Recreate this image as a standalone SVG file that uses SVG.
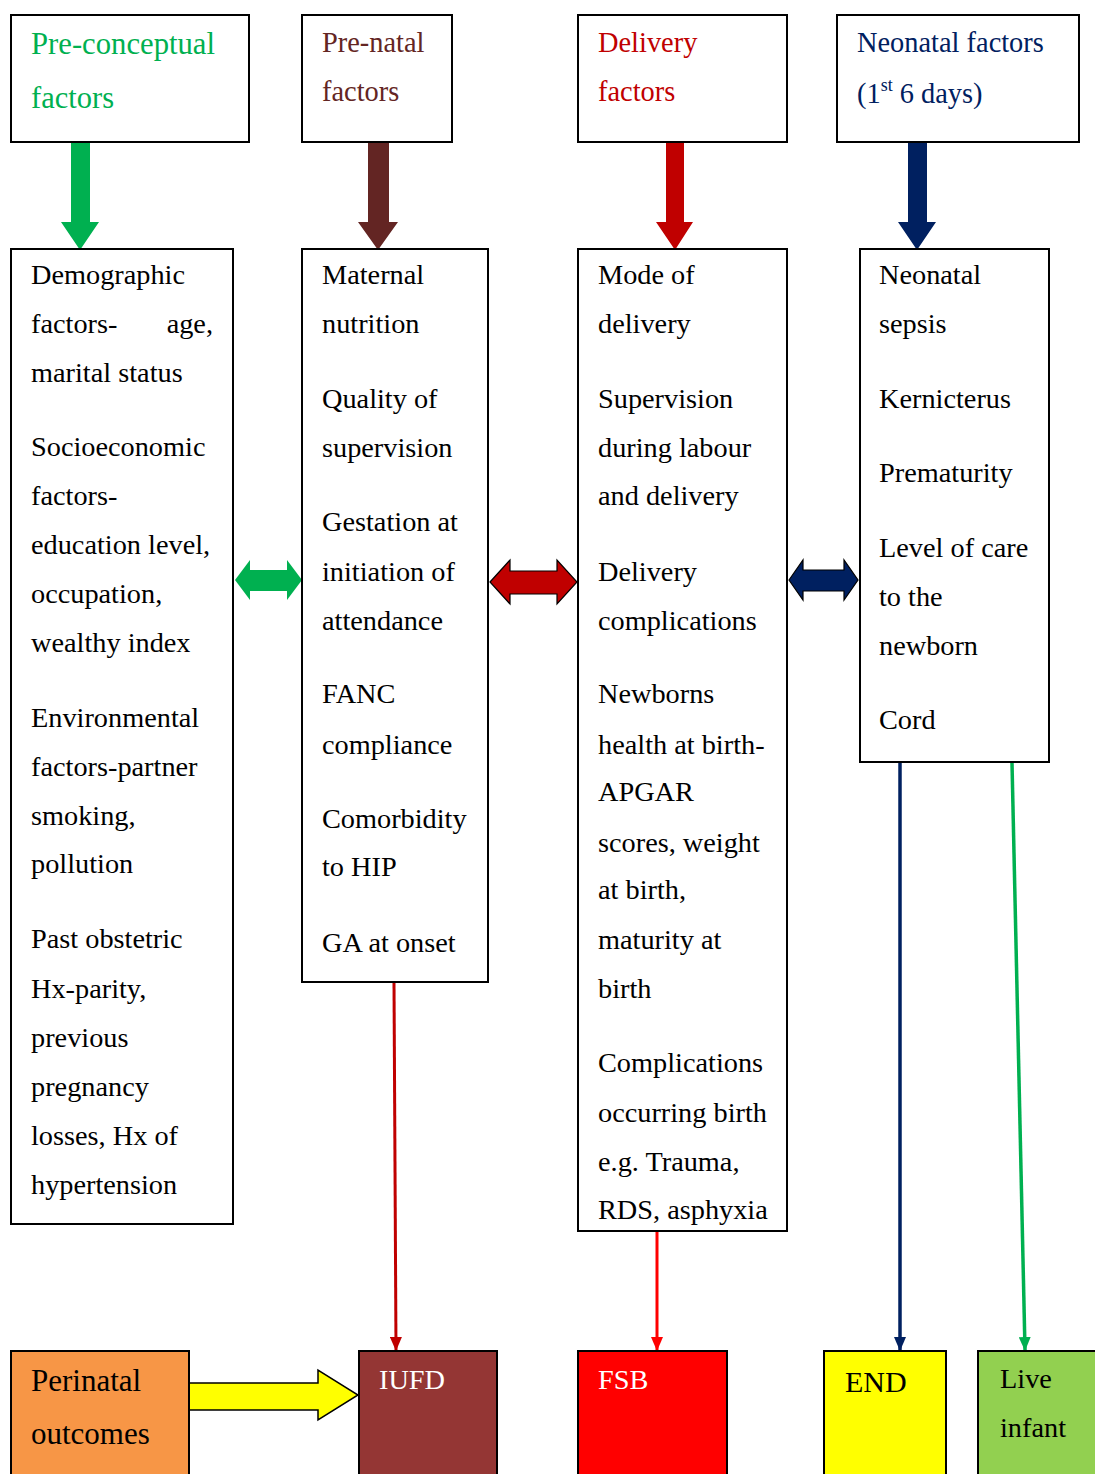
<svg xmlns="http://www.w3.org/2000/svg" width="1095" height="1474" viewBox="0 0 1095 1474">
<style>
.box{fill:#fff;stroke:#000;stroke-width:2}
.t{font-family:"Liberation Serif","Times New Roman",serif;font-size:28.3px;fill:#000}
.h{font-family:"Liberation Serif","Times New Roman",serif;font-size:28.4px}
.w{fill:#fff}
</style>
<defs>
<marker id="mRed" markerWidth="14" markerHeight="12" refX="13" refY="6" orient="auto" markerUnits="userSpaceOnUse" viewBox="0 0 14 12"><path d="M0,0 L14,6 L0,12 Z" fill="#C00000"/></marker>
<marker id="mBright" markerWidth="14" markerHeight="12" refX="13" refY="6" orient="auto" markerUnits="userSpaceOnUse" viewBox="0 0 14 12"><path d="M0,0 L14,6 L0,12 Z" fill="#FF0000"/></marker>
<marker id="mNavy" markerWidth="14" markerHeight="12" refX="13" refY="6" orient="auto" markerUnits="userSpaceOnUse" viewBox="0 0 14 12"><path d="M0,0 L14,6 L0,12 Z" fill="#002060"/></marker>
<marker id="mGreen" markerWidth="14" markerHeight="12" refX="13" refY="6" orient="auto" markerUnits="userSpaceOnUse" viewBox="0 0 14 12"><path d="M0,0 L14,6 L0,12 Z" fill="#00B050"/></marker>
</defs>
<rect width="1095" height="1474" fill="#fff"/>

<g id="connectors">
<path d="M71,138 H90 V222 H99 L80,250 L61,222 H71 Z" fill="#00B050"/>
<path d="M368,138 H389 V222 H398 L378,250 L358,222 H368 Z" fill="#632523"/>
<path d="M666,142 H684 V222 H693 L675,250 L656,222 H666 Z" fill="#C00000"/>
<path d="M908,138 H927 V222 H936 L917,250 L898,222 H908 Z" fill="#002060"/>
<path d="M235,580 L250,560 V570 H287 V560 L302,580 L287,600 V591 H250 V600 Z" fill="#00B050"/>
<path d="M490,582 L510,560 V571 H557 V560 L577,582 L557,604 V594 H510 V604 Z" fill="#C00000" stroke="#000" stroke-width="1.2"/>
<path d="M789,580 L803,560 V570 H844 V560 L858,580 L844,600 V591 H803 V600 Z" fill="#002060" stroke="#000" stroke-width="1.2"/>
<line x1="394" y1="983" x2="396" y2="1350" stroke="#C00000" stroke-width="3" marker-end="url(#mRed)"/>
<line x1="657" y1="1232" x2="657" y2="1350" stroke="#FF0000" stroke-width="3" marker-end="url(#mBright)"/>
<line x1="900" y1="763" x2="900" y2="1350" stroke="#002060" stroke-width="3.5" marker-end="url(#mNavy)"/>
<line x1="1012" y1="763" x2="1025" y2="1350" stroke="#00B050" stroke-width="3.5" marker-end="url(#mGreen)"/>
<path d="M189,1383 H318 V1370 L358,1395 L318,1420 V1410 H189 Z" fill="#FFFF00" stroke="#000" stroke-width="1.5"/>
</g>

<g id="h1">
<rect class="box" x="11" y="15" width="238" height="127"/>
<text class="h" x="31" y="54" fill="#00B050" style="font-size:31px" textLength="184" lengthAdjust="spacingAndGlyphs">Pre-conceptual</text>
<text class="h" x="31" y="108" fill="#00B050" style="font-size:31px" textLength="83" lengthAdjust="spacingAndGlyphs">factors</text>
</g>
<g id="h2">
<rect class="box" x="302" y="15" width="150" height="127"/>
<text class="h" x="322" y="52" fill="#632523">Pre-natal</text>
<text class="h" x="322" y="101" fill="#632523">factors</text>
</g>
<g id="h3">
<rect class="box" x="578" y="15" width="209" height="127"/>
<text class="h" x="598" y="52" fill="#C00000">Delivery</text>
<text class="h" x="598" y="101" fill="#C00000">factors</text>
</g>
<g id="h4">
<rect class="box" x="837" y="15" width="242" height="127"/>
<text class="h" x="857" y="52" fill="#002060">Neonatal factors</text>
<text class="h" x="857" y="103" fill="#002060">(1<tspan style="font-size:18px" dy="-12">st</tspan><tspan dy="12"> 6 days)</tspan></text>
</g>

<g id="nA">
<rect class="box" x="11" y="249" width="222" height="975"/>
<text class="t" x="31" y="284">Demographic</text>
<text class="t" x="31" y="333">factors-</text>
<text class="t" x="213" y="333" text-anchor="end">age,</text>
<text class="t" x="31" y="382">marital status</text>
<text class="t" x="31" y="456">Socioeconomic</text>
<text class="t" x="31" y="505">factors-</text>
<text class="t" x="31" y="554">education level,</text>
<text class="t" x="31" y="603">occupation,</text>
<text class="t" x="31" y="652">wealthy index</text>
<text class="t" x="31" y="727">Environmental</text>
<text class="t" x="31" y="776">factors-partner</text>
<text class="t" x="31" y="825">smoking,</text>
<text class="t" x="31" y="873">pollution</text>
<text class="t" x="31" y="948">Past obstetric</text>
<text class="t" x="31" y="998">Hx-parity,</text>
<text class="t" x="31" y="1047">previous</text>
<text class="t" x="31" y="1096">pregnancy</text>
<text class="t" x="31" y="1145">losses, Hx of</text>
<text class="t" x="31" y="1194">hypertension</text>
</g>

<g id="nB">
<rect class="box" x="302" y="249" width="186" height="733"/>
<text class="t" x="322" y="284">Maternal</text>
<text class="t" x="322" y="333">nutrition</text>
<text class="t" x="322" y="408">Quality of</text>
<text class="t" x="322" y="457">supervision</text>
<text class="t" x="322" y="531">Gestation at</text>
<text class="t" x="322" y="581">initiation of</text>
<text class="t" x="322" y="630">attendance</text>
<text class="t" x="322" y="703">FANC</text>
<text class="t" x="322" y="754">compliance</text>
<text class="t" x="322" y="828">Comorbidity</text>
<text class="t" x="322" y="876">to HIP</text>
<text class="t" x="322" y="952">GA at onset</text>
</g>

<g id="nC">
<rect class="box" x="578" y="249" width="209" height="982"/>
<text class="t" x="598" y="284">Mode of</text>
<text class="t" x="598" y="333">delivery</text>
<text class="t" x="598" y="408">Supervision</text>
<text class="t" x="598" y="457">during labour</text>
<text class="t" x="598" y="505">and delivery</text>
<text class="t" x="598" y="581">Delivery</text>
<text class="t" x="598" y="630">complications</text>
<text class="t" x="598" y="703">Newborns</text>
<text class="t" x="598" y="754">health at birth-</text>
<text class="t" x="598" y="801">APGAR</text>
<text class="t" x="598" y="852">scores, weight</text>
<text class="t" x="598" y="899">at birth,</text>
<text class="t" x="598" y="949">maturity at</text>
<text class="t" x="598" y="998">birth</text>
<text class="t" x="598" y="1072">Complications</text>
<text class="t" x="598" y="1122">occurring birth</text>
<text class="t" x="598" y="1171">e.g. Trauma,</text>
<text class="t" x="598" y="1219">RDS, asphyxia</text>
</g>

<g id="nD">
<rect class="box" x="860" y="249" width="189" height="513"/>
<text class="t" x="879" y="284">Neonatal</text>
<text class="t" x="879" y="333">sepsis</text>
<text class="t" x="879" y="408">Kernicterus</text>
<text class="t" x="879" y="482">Prematurity</text>
<text class="t" x="879" y="557">Level of care</text>
<text class="t" x="879" y="606">to the</text>
<text class="t" x="879" y="655">newborn</text>
<text class="t" x="879" y="729">Cord</text>
</g>

<g id="oPerinatal">
<rect x="11" y="1351" width="178" height="130" fill="#F79646" stroke="#000" stroke-width="2"/>
<text class="t" x="31" y="1391" style="font-size:31px">Perinatal</text>
<text class="t" x="31" y="1444" style="font-size:31px">outcomes</text>
</g>
<g id="oIUFD">
<rect x="359" y="1351" width="138" height="130" fill="#943634" stroke="#000" stroke-width="2"/>
<text class="t w" x="379" y="1389">IUFD</text>
</g>
<g id="oFSB">
<rect x="578" y="1351" width="149" height="130" fill="#FF0000" stroke="#000" stroke-width="2"/>
<text class="t w" x="598" y="1389">FSB</text>
</g>
<g id="oEND">
<rect x="824" y="1351" width="122" height="130" fill="#FFFF00" stroke="#000" stroke-width="2"/>
<text class="t" x="845" y="1392" style="font-size:30px">END</text>
</g>
<g id="oLive">
<rect x="978" y="1351" width="130" height="130" fill="#92D050" stroke="#000" stroke-width="2"/>
<text class="t" x="1000" y="1388">Live</text>
<text class="t" x="1000" y="1437">infant</text>
</g>
</svg>
